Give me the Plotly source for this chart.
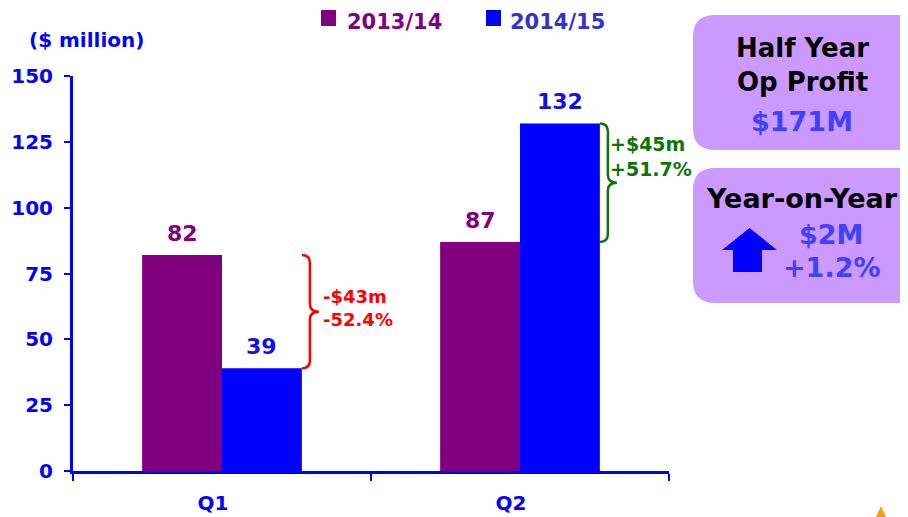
import plotly.graph_objects as go

quarters = ["Q1", "Q2"]
fy1314 = [82, 87]
fy1415 = [39, 132]
series_names = ["2013/14", "2014/15"]
q1_change = ["-$43m", "-52.4%"]
q2_change = ["+$45m", "+51.7%"]
box1_lines = ["Half Year", "Op Profit", "$171M"]
box2_lines = ["Year-on-Year", "$2M", "+1.2%"]
y_ticks = [0, 25, 50, 75, 100, 125, 150]

PURPLE = "#800080"
BLUE = "#0000FF"
BOXFILL = "#CC99FF"
VALBLUE = "#4040FF"
RED = "#FF0000"
GREEN = "#0B750B"

OFF = 8  # page body margin of the browser
W, H = 908 - OFF, 517 - OFF
# plot area in page pixels
L, R, T, B = 73, 669, 76, 471
BAR_W = 0.268
BIG = "DejaVu Sans"


def px(x):
    return (x - L) / (R - L)


def py(y):
    return (B - y) / (B - T)


def cat_to_paper(xd):
    return (xd + 0.5) / 2.0


fig = go.Figure()
fig.add_trace(go.Bar(x=quarters, y=fy1314, name=series_names[0],
                     marker_color=PURPLE, width=BAR_W, offset=-BAR_W, marker_line_width=0))
fig.add_trace(go.Bar(x=quarters, y=fy1415, name=series_names[1],
                     marker_color=BLUE, width=BAR_W, offset=0, marker_line_width=0))

annotations = []
shapes = []

# value labels
for i, v in enumerate(fy1314):
    annotations.append(dict(x=i - BAR_W / 2, y=v, xref="x", yref="y", text=str(v), showarrow=False,
                            xanchor="center", yanchor="bottom", yshift=7,
                            font=dict(family=BIG, size=22, color=PURPLE, weight="bold")))
for i, v in enumerate(fy1415):
    annotations.append(dict(x=i + BAR_W / 2, y=v, xref="x", yref="y", text=str(v), showarrow=False,
                            xanchor="center", yanchor="bottom", yshift=7,
                            font=dict(family=BIG, size=22, color="#1010EE", weight="bold")))


def brace(i, color):
    lo, hi = sorted([fy1314[i], fy1415[i]])
    x0 = cat_to_paper(i + BAR_W)
    x1 = x0 + 8 / (R - L)
    x2 = x0 + 17 / (R - L)
    d = 3.0
    mid = (lo + hi) / 2
    path = (f"M {x0},{hi} Q {x1},{hi} {x1},{hi - d} L {x1},{mid + d} Q {x1},{mid} {x2},{mid} "
            f"Q {x1},{mid} {x1},{mid - d} L {x1},{lo + d} Q {x1},{lo} {x0},{lo}")
    shapes.append(dict(type="path", path=path, xref="paper", yref="y",
                       line=dict(color=color, width=2.5)))
    return x0, lo, hi, mid


def rrect(x0, y0, x1, y1, r):
    pts = [("M", [(x0 + r, y0)]), ("L", [(x1 - r, y0)]), ("Q", [(x1, y0), (x1, y0 + r)]),
           ("L", [(x1, y1 - r)]), ("Q", [(x1, y1), (x1 - r, y1)]), ("L", [(x0 + r, y1)]),
           ("Q", [(x0, y1), (x0, y1 - r)]), ("L", [(x0, y0 + r)]), ("Q", [(x0, y0), (x0 + r, y0)])]
    s = ""
    for cmd, ps in pts:
        s += cmd + " " + " ".join(f"{px(a):.5f},{py(b):.5f}" for a, b in ps) + " "
    return s + "Z"


shapes.append(dict(type="path", path=rrect(693, 15, 930, 150, 22), xref="paper", yref="paper",
                   fillcolor=BOXFILL, line=dict(width=0), layer="below"))
shapes.append(dict(type="path", path=rrect(693, 168, 930, 303, 22), xref="paper", yref="paper",
                   fillcolor=BOXFILL, line=dict(width=0), layer="below"))

# arrow
arrow_pts = [(749.5, 228), (777, 250), (762, 250), (762, 272), (733, 272), (733, 250), (722, 250)]
apath = "M " + " L ".join(f"{px(a):.5f},{py(b):.5f}" for a, b in arrow_pts) + " Z"
shapes.append(dict(type="path", path=apath, xref="paper", yref="paper", fillcolor=BLUE,
                   line=dict(width=0)))

# small orange decoration
opath = "M " + " L ".join(f"{px(a):.5f},{py(b):.5f}" for a, b in [(881, 506), (886, 517), (876, 517)]) + " Z"
shapes.append(dict(type="path", path=opath, xref="paper", yref="paper", fillcolor="#F0A020",
                   line=dict(width=0)))

# manual legend
for (sx, tx, col, tcol, name) in [(321, 345, PURPLE, PURPLE, series_names[0]),
                                  (486, 508, BLUE, "#3333CC", series_names[1])]:
    shapes.append(dict(type="rect", xref="paper", yref="paper", x0=px(sx), x1=px(sx + 15),
                       y0=py(26), y1=py(10), fillcolor=col, line=dict(width=0)))
    annotations.append(dict(x=px(tx), y=py(OFF), xref="paper", yref="paper", text=name,
                            xanchor="left", yanchor="top", showarrow=False,
                            font=dict(family=BIG, size=21, color=tcol, weight="bold")))

x0, lo, hi, mid = brace(0, RED)
annotations.append(dict(x=x0 + 19 / (R - L), y=mid, xref="paper", yref="y", xanchor="left", yanchor="middle",
                        yshift=4, text="<br>".join(q1_change), showarrow=False, align="left",
                        font=dict(family=BIG, size=18, color=RED, weight="bold")))
x0, lo, hi, mid = brace(1, GREEN)
annotations.append(dict(x=x0 + 8 / (R - L), y=hi, xref="paper", yref="y", xanchor="left", yanchor="middle",
                        yshift=-33, text="<br>".join(q2_change), showarrow=False, align="left",
                        font=dict(family=BIG, size=19, color=GREEN, weight="bold")))


def box_text(xc, yc, text, color, size):
    annotations.append(dict(x=px(xc), y=py(yc), xref="paper", yref="paper", text=text,
                            xanchor="center", yanchor="middle", showarrow=False, align="center",
                            font=dict(family=BIG, size=size, color=color, weight="bold")))


box_text(802, 65, "<br>".join(box1_lines[:2]), "black", 26)
box_text(802, 122, box1_lines[2], VALBLUE, 27)
box_text(802, 198, box2_lines[0], "black", 27)
box_text(831, 234, box2_lines[1], VALBLUE, 27)
box_text(832, 267, box2_lines[2], VALBLUE, 27)

# unit label
annotations.append(dict(x=px(86), y=py(40), xref="paper", yref="paper", text="($ million)",
                        xanchor="center", yanchor="middle",
                        showarrow=False, font=dict(family=BIG, size=20, color=BLUE, weight="bold")))

fig.update_layout(
    width=W, height=H,
    margin=dict(l=L - OFF, r=908 - R, t=T - OFF, b=517 - B, pad=0, autoexpand=False),
    paper_bgcolor="white", plot_bgcolor="white",
    barmode="group", bargap=0.464, bargroupgap=0,
    showlegend=False,
    annotations=annotations, shapes=shapes,
    xaxis=dict(type="category", range=[-0.5, 1.5], showline=True, linecolor=BLUE, linewidth=3,
               ticks="outside", tickson="boundaries", ticklen=7, tickwidth=2, tickcolor=BLUE,
               showgrid=False, zeroline=False, ticklabelstandoff=12, ticklabelshift=-9, automargin=False,
               tickfont=dict(family=BIG, size=20, color=BLUE, weight="bold")),
    yaxis=dict(range=[0, 150], tickvals=y_ticks, showline=True, linecolor=BLUE, linewidth=3,
               ticks="outside", ticklen=6, tickwidth=2, tickcolor=BLUE, showgrid=False, zeroline=False,
               ticklabelstandoff=7, automargin=False,
               tickfont=dict(family=BIG, size=20, color=BLUE, weight="bold")),
)

fig.write_html("out.html")
